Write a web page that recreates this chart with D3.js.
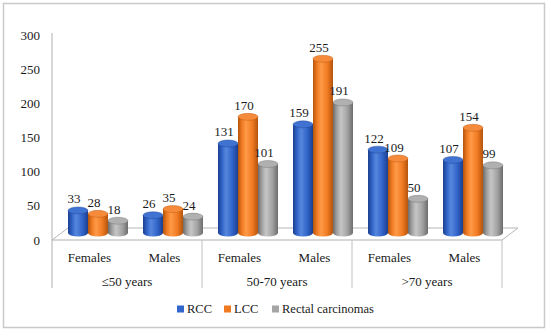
<!DOCTYPE html>
<html>
<head>
<meta charset="utf-8">
<script src="https://cdn.jsdelivr.net/npm/d3@7"></script>
<style>
body{margin:0;background:#fff;}
</style>
</head>
<body>
<svg id="chart" width="550" height="333"></svg>
<script>
const categories = ["Females","Males","Females","Males","Females","Males"];
const groups = ["\u226450 years","50-70 years",">70 years"];
const seriesNames = ["RCC","LCC","Rectal carcinomas"];
const rccValues = [33,26,131,159,122,107];
const lccValues = [28,35,170,255,109,154];
const rectalValues = [18,24,101,191,50,99];
const yTicks = [0,50,100,150,200,250,300];

const FONT = "Liberation Serif";
const svg = d3.select("#chart");
svg.append("rect").attr("x",3.5).attr("y",3.5).attr("width",541).attr("height",324)
  .attr("fill","#fff").attr("stroke","#c9c9c9").attr("stroke-width",1.5);

const x0 = 52, x1 = 502, floorY = 240, depthX = 16, depthY = -12;
const y = d3.scaleLinear().domain([0,300]).range([240,35]);
const xBand = d3.scaleBand().domain(d3.range(categories.length)).range([x0,x1]).paddingInner(0);
const xInner = d3.scaleBand().domain(seriesNames).range([0,60]);

const colors = {
  "RCC":{base:"#3064c8",light:"#5687de",dark:"#1c3e8e",top:"#4072d2",flat:"#3366cc"},
  "LCC":{base:"#f07a22",light:"#ff9a48",dark:"#b3540c",top:"#f58b3a",flat:"#f07a22"},
  "Rectal carcinomas":{base:"#a2a2a2",light:"#c6c6c6",dark:"#6c6c6c",top:"#b0b0b0",flat:"#a5a5a5"}
};
const defs = svg.append("defs");
seriesNames.forEach((s,i)=>{
  const c = colors[s];
  const g = defs.append("linearGradient").attr("id","g"+i).attr("x1","0").attr("x2","1").attr("y1","0").attr("y2","0");
  [[0,c.dark],[0.2,c.base],[0.4,c.light],[0.72,c.base],[1,c.dark]].forEach(([o,col])=>
    g.append("stop").attr("offset",o).attr("stop-color",col));
});

const floor = svg.append("g").attr("fill","none").attr("stroke","#b5b5b5").attr("stroke-width",1);
floor.append("path").attr("d",
  `M${x0},${floorY}L${x0+depthX},${floorY+depthY}L${x1+depthX},${floorY+depthY}L${x1},${floorY}`);
svg.append("line").attr("x1",x0).attr("x2",x0).attr("y1",y(300)-2).attr("y2",288)
  .attr("stroke","#b0b0b0");
svg.append("line").attr("x1",x0).attr("x2",x1).attr("y1",floorY).attr("y2",floorY)
  .attr("stroke","#b0b0b0");
[202,352,502].forEach(xx=>{
  svg.append("line").attr("x1",xx).attr("x2",xx).attr("y1",floorY).attr("y2",288).attr("stroke","#c0c0c0");
});

svg.append("g").selectAll("text").data(yTicks).join("text")
  .attr("x",40).attr("y",d=>y(d)).attr("dy","0.35em").attr("text-anchor","end")
  .attr("font-family",FONT).attr("font-size","13px").attr("fill","#1a1a1a").text(d=>d);

const data = [];
categories.forEach((c,ci)=>{
  [rccValues,lccValues,rectalValues].forEach((arr,si)=>{
    data.push({ci, si, s:seriesNames[si], v:arr[ci]});
  });
});
const bw = xInner.bandwidth(), rx = bw/2, ry = 3.5, shiftY = -7;
const bars = svg.append("g").selectAll("g").data(data).join("g");
bars.each(function(d){
  const g = d3.select(this);
  const left = xBand(d.ci) + 7.5 + 8.5 + xInner(d.s);
  const cx = left + rx;
  const yb = y(0) + shiftY, yt = y(d.v) + shiftY;
  const c = colors[d.s];
  g.append("path").attr("d",
    `M${left},${yt}L${left},${yb}A${rx},${ry} 0 0 0 ${left+bw},${yb}L${left+bw},${yt}Z`)
    .attr("fill",`url(#g${d.si})`);
  g.append("ellipse").attr("cx",cx).attr("cy",yt).attr("rx",rx).attr("ry",ry)
    .attr("fill",c.top).attr("stroke",c.dark).attr("stroke-width",0.4);
  g.append("text").attr("x",cx-4).attr("y",yt-7).attr("text-anchor","middle")
    .attr("font-family",FONT).attr("font-size","13px").attr("fill","#1a1a1a").text(d.v);
});

svg.append("g").selectAll("text").data(categories).join("text")
  .attr("x",(d,i)=>xBand(i)+xBand.bandwidth()/2).attr("y",257).attr("dy","0.35em")
  .attr("text-anchor","middle").attr("font-family",FONT).attr("font-size","13px").attr("fill","#1a1a1a").text(d=>d);
svg.append("g").selectAll("text").data(groups).join("text")
  .attr("x",(d,i)=>x0+150*i+75).attr("y",281).attr("dy","0.35em")
  .attr("text-anchor","middle").attr("font-family",FONT).attr("font-size","13px").attr("fill","#1a1a1a").text(d=>d);

const legendX = [177,224,272];
const lg = svg.append("g").selectAll("g").data(seriesNames).join("g")
  .attr("transform",(d,i)=>`translate(${legendX[i]},309)`);
lg.append("rect").attr("x",0).attr("y",-3.5).attr("width",7).attr("height",7).attr("fill",d=>colors[d].flat);
lg.append("text").attr("x",10).attr("y",0).attr("dy","0.35em").attr("font-family",FONT)
  .attr("font-size","12.5px").attr("fill","#1a1a1a").text(d=>d);
</script>
</body>
</html>
